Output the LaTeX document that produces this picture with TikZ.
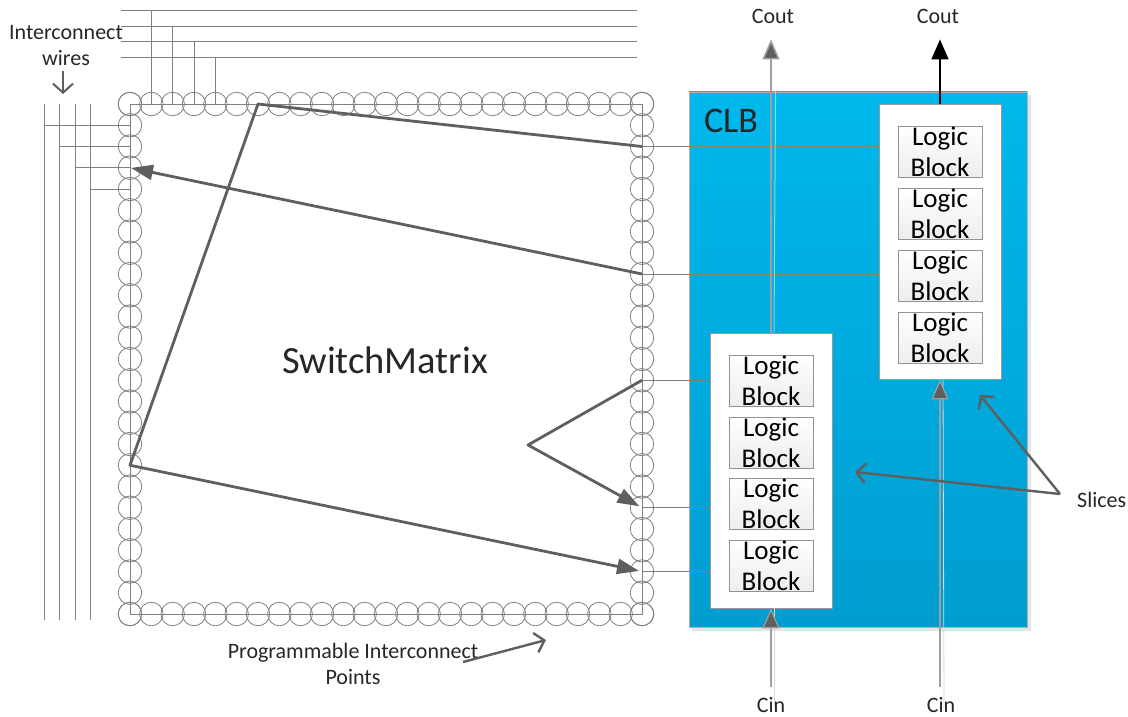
\documentclass[tikz,border=0pt]{standalone}
\usepackage{fontspec}
\setmainfont{Carlito}
\usetikzlibrary{arrows.meta}
\definecolor{wirecol}{HTML}{808080}
\definecolor{routecol}{HTML}{5F5F5F}
\definecolor{clbtop}{HTML}{00B8EC}
\definecolor{clbbot}{HTML}{009DD0}
\definecolor{txtcol}{HTML}{262626}
\begin{document}
\begin{tikzpicture}[x=1pt,y=-1pt,
  pip/.style={circle,draw=wirecol,line width=0.8pt,minimum size=23.5pt,inner sep=0pt},
  wire/.style={draw=wirecol,line width=0.9pt},
  route/.style={draw=routecol,line width=2.8pt,line join=round},
  routearrow/.style={route,-{Triangle[length=22pt,width=15pt]}},
  pointer/.style={draw=routecol,line width=2.4pt,-{Straight Barb[length=9pt,width=20pt]}},
  lbl/.style={font=\fontsize{22}{26}\selectfont,align=center,inner sep=0pt,text=txtcol},
  lblock/.style={draw=gray!85,line width=0.8pt,top color=white,bottom color=gray!14,minimum width=84pt,minimum height=51pt,inner sep=0pt,align=center,font=\fontsize{27}{31}\selectfont,text=black},
  slicebox/.style={draw=gray!80,line width=0.8pt,fill=white},
  carry/.style={draw=gray!75,line width=1.6pt},
  cartip/.style={-{Triangle[length=20pt,width=17pt,fill=routecol]}},
  glow/.style={draw=white,opacity=0.5,line width=1pt}
]
\useasboundingbox (0,0) rectangle (1128,717);

% ---------- switch matrix points ----------
\foreach \i in {0,...,24}{
  \node[pip] (t\i) at ({130+\i*21.333},104) {};
  \node[pip] (b\i) at ({130+\i*21.333},614) {};
  \node[pip] (l\i) at (130,{104+\i*21.25}) {};
  \node[pip] (r\i) at (642,{104+\i*21.25}) {};
}
\draw[wire] (t0.center) -- (t24.center) -- (b24.center) -- (b0.center) -- cycle;

% ---------- interconnect wires (top) ----------
\foreach \k/\y in {1/10,2/26,3/41,4/57}{
  \draw[wire] (121,\y) -- (637,\y);
  \draw[wire] (t\k.center) -- ++(0,{\y-104});
}
% ---------- interconnect wires (left) ----------
\foreach \k/\x in {1/44,2/59,3/75,4/90}{
  \draw[wire] (\x,104) -- (\x,620);
  \draw[wire] (l\k.center) -- ++({\x-130},0);
}
\node[lbl] (iw) at (66,46) {Interconnect\\wires};
\coordinate (iwa) at (63,71);
\coordinate (iwb) at (63,94);
\draw[draw=routecol,line width=2pt,-{Straight Barb[length=9pt,width=20pt]}] (iwa) -- (iwb);

\node[font=\fontsize{38.5}{40}\selectfont,text=txtcol] (sm) at (385,360) {SwitchMatrix};

% ---------- CLB ----------
\fill[gray!20] (692,95) rectangle (1031,631);
\shade[top color=clbtop,bottom color=clbbot,draw=gray!60,line width=0.6pt] (689,92) rectangle (1027,627);
\node[font=\fontsize{36}{40}\selectfont,text=txtcol,anchor=center] (clb) at (731,121) {CLB};

% slices
\node[slicebox,minimum width=122pt,minimum height=275pt,inner sep=0pt] (rs) at (940,241.5) {};
\node[slicebox,minimum width=122pt,minimum height=275pt,inner sep=0pt] (ls) at (771,470.5) {};

\node[lblock] (rb1) at (940,151.5) {Logic\\Block};
\node[lblock] (rb2) at (940,213.5) {Logic\\Block};
\node[lblock] (rb3) at (940,275.5) {Logic\\Block};
\node[lblock] (rb4) at (940,337.5) {Logic\\Block};
\node[lblock] (lb1) at (771,380.5) {Logic\\Block};
\node[lblock] (lb2) at (771,442.5) {Logic\\Block};
\node[lblock] (lb3) at (771,503.5) {Logic\\Block};
\node[lblock] (lb4) at (771,565.5) {Logic\\Block};

% connections from matrix to slices
\draw[wire] (r2.center) -- (r2.center -| rs.west);
\draw[wire] (r8.center) -- (r8.center -| rs.west);
\draw[wire] (r13.center) -- (r13.center -| ls.west);
\draw[wire] (r19.center) -- (r19.center -| ls.west);
\draw[wire] (r22.center) -- (r22.center -| ls.west);

% carry chain
\node[lbl] (cout1) at (773,16) {Cout};
\node[lbl] (cout2) at (938,16) {Cout};
\node[lbl] (cin1) at (771,705) {Cin};
\node[lbl] (cin2) at (941,705) {Cin};

\draw[glow] ([xshift=3pt]ls.north) -- ([xshift=3pt,yshift=-2pt]cout1.south);
\draw[carry,cartip,shorten >=16pt] (ls.north) -- (ls.north |- cout1.south);
\draw[draw=black,line width=1.4pt,-{Triangle[length=20pt,width=17pt]},shorten >=16pt] (rs.north) -- (rs.north |- cout2.south);
\draw[draw=gray!30,line width=0.8pt] ([xshift=3pt,yshift=-10pt]cin1.north) -- ([xshift=3pt]ls.south);
\draw[draw=gray!30,line width=0.8pt] ([xshift=3pt,yshift=-10pt]cin2.north) -- ([xshift=3pt]rs.south);
\draw[draw=gray!75,line width=1.2pt,cartip,shorten <=10pt] (cin1.north -| ls.south) -- (ls.south);
\draw[draw=gray!75,line width=1.2pt,cartip,shorten <=10pt] (cin2.north -| rs.south) -- (rs.south);

% ---------- routing inside switch matrix ----------
\draw[routearrow,shorten >=3pt] (r2.center) -- (t6.center) -- (l17.center) -- (r22.center);
\draw[routearrow,shorten >=1pt] (r8.center) -- (l3.center);
\coordinate (vtx) at (528,445);
\draw[routearrow,shorten >=3pt] (r13.center) -- (vtx) -- (r19.center);

% ---------- labels with pointers ----------
\node[lbl] (pip) at (353,664) {Programmable Interconnect\\Points};
\coordinate (pipa) at (463,662);
\coordinate (pipb) at (546,640);
\draw[pointer] (pipa) -- (pipb);

\node[lbl,anchor=west] (sl) at (1077,500) {Slices};
\coordinate (sp) at (1060,494);
\coordinate (spa) at (855,472);
\coordinate (spb) at (980,395);
\draw[pointer] (sp) -- (spa);
\draw[pointer] (sp) -- (spb);
\end{tikzpicture}
\end{document}
